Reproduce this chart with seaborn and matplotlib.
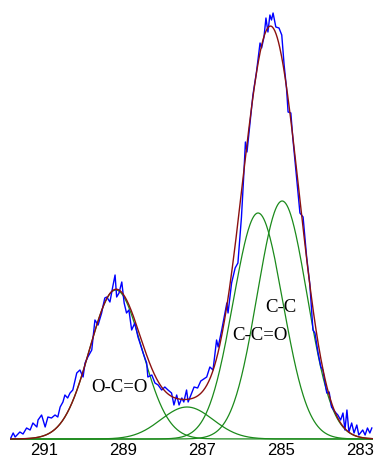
import numpy as np
import pandas as pd
import matplotlib
matplotlib.use('Agg')
import matplotlib.pyplot as plt
import seaborn as sns

# measured spectrum (binding energy in eV, intensity in counts)
energia = [291.84, 291.78, 291.73, 291.61, 291.53, 291.44, 291.35, 291.28, 291.18, 291.15,
           291.06, 290.97, 290.90, 290.81, 290.72, 290.65, 290.59, 290.52, 290.47, 290.40,
           290.34, 290.27, 290.17, 290.09, 290.01, 289.96, 289.89, 289.79, 289.71, 289.63,
           289.54, 289.51, 289.46, 289.41, 289.33, 289.26, 289.20, 289.16, 289.10, 289.03,
           288.97, 288.91, 288.85, 288.78, 288.70, 288.62, 288.57, 288.49, 288.40, 288.37,
           288.27, 288.19, 288.11, 288.02, 287.94, 287.86, 287.77, 287.71, 287.64, 287.58,
           287.51, 287.46, 287.39, 287.35, 287.26, 287.20, 287.11, 287.03, 286.88, 286.80,
           286.72, 286.63, 286.59, 286.50, 286.37, 286.34, 286.25, 286.16, 286.09, 286.00,
           285.94, 285.90, 285.86, 285.78, 285.71, 285.62, 285.53, 285.49, 285.43, 285.38,
           285.33, 285.28, 285.24, 285.20, 285.13, 285.05, 284.98, 284.92, 284.86, 284.82,
           284.75, 284.70, 284.65, 284.61, 284.54, 284.52, 284.44, 284.35, 284.27, 284.19,
           284.14, 284.06, 283.99, 283.94, 283.84, 283.78, 283.72, 283.63, 283.56, 283.49,
           283.43, 283.38, 283.33, 283.28, 283.21, 283.15, 283.08, 283.03, 282.93, 282.87,
           282.81, 282.75, 282.70]
cuentas = [1, 6, 2, 7, 5, 11, 9, 16, 12, 19,
           24, 12, 22, 21, 24, 22, 32, 37, 44, 41,
           46, 49, 66, 69, 62, 76, 82, 89, 119, 114,
           126, 132, 141, 142, 137, 152, 164, 142, 146, 157,
           136, 126, 129, 109, 116, 102, 96, 86, 76, 62,
           64, 56, 54, 49, 52, 49, 46, 34, 44, 34,
           41, 37, 49, 37, 46, 52, 51, 58, 62, 72,
           69, 99, 92, 109, 136, 126, 156, 171, 176, 222,
           265, 297, 287, 317, 344, 367, 396, 391, 402, 421,
           407, 424, 419, 426, 412, 411, 404, 374, 351, 327,
           326, 301, 280, 264, 234, 226, 222, 182, 155, 109,
           106, 86, 72, 69, 46, 47, 32, 27, 24, 19,
           26, 9, 29, 7, 16, 6, 14, 4, 9, 4,
           11, 6, 11]

# fitted components
picos = ['O-C=O', 'C-O', 'C-C=O', 'C-C']
centros = [289.18, 287.38, 285.58, 284.97]
alturas = [149, 32, 226, 238]
sigmas = [0.66, 0.66, 0.63, 0.63]

etiquetas = ['O-C=O', 'C-C=O', 'C-C']
etiqueta_x = [289.08, 285.54, 285.00]
etiqueta_y = [51, 103, 132]

ticks = [291, 289, 287, 285, 283]

x_min, x_max = 282.67, 291.86
eje = np.linspace(x_min, x_max, 600)

fig = plt.figure(figsize=(3.75, 4.58), dpi=100)
ax = fig.add_axes([10 / 375, 1 - 440.5 / 458, 363 / 375, 440.5 / 458])

total = np.zeros_like(eje)
for c, h, s in zip(centros, alturas, sigmas):
    comp = h * np.exp(-(eje - c) ** 2 / (2 * s ** 2))
    total += comp
    sns.lineplot(x=eje, y=comp, ax=ax, color='#1b8a1b', linewidth=0.9, sort=False)

espectro = pd.DataFrame({'E': energia, 'I': cuentas})
sns.lineplot(data=espectro, x='E', y='I', ax=ax, color='#0000ff', linewidth=1.0, sort=False)
sns.lineplot(x=eje, y=total, ax=ax, color='#8b1010', linewidth=1.0, sort=False)

for t, xx, yy in zip(etiquetas, etiqueta_x, etiqueta_y):
    ax.text(xx, yy, t, family='Liberation Serif', fontsize=13.5, ha='center', va='center')

ax.set_xlim(x_max, x_min)
ax.set_ylim(-1.5, 439)
ax.set_xticks(ticks)
ax.set_xticklabels([str(t) for t in ticks], family='Liberation Sans', fontsize=12)
ax.tick_params(axis='x', length=0, pad=1.5)
ax.set_yticks([])
ax.set_xlabel('')
ax.set_ylabel('')
for s in ax.spines.values():
    s.set_visible(False)

fig.savefig('out.png', dpi=100)
